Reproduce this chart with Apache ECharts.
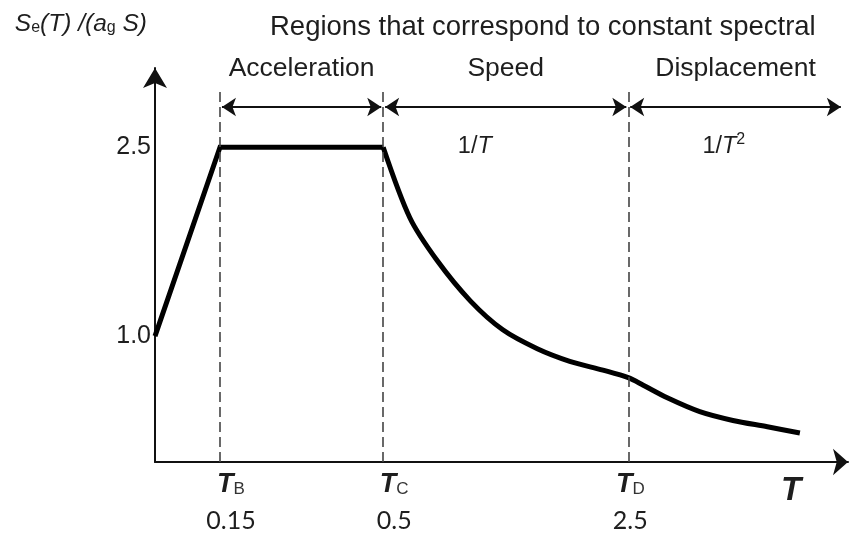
<!DOCTYPE html>
<html>
<head>
<meta charset="utf-8">
<script src="https://cdn.jsdelivr.net/npm/echarts@6/dist/echarts.min.js"></script>
<style>
  html, body { margin: 0; padding: 0; background: #fff; }
  #chart { width: 850px; height: 538px; }
</style>
</head>
<body>
<div id="chart"></div>
<script>
// Schematic elastic response spectrum, Se(T)/(ag S), plotted on a stretched period axis.
// Corner periods: name, value in seconds, position on the schematic axis.
const periodNames = ['B', 'C', 'D'];
const periodValues = ['0.15', '0.5', '2.5'];
const periodAxisPos = [1.0, 3.51, 7.28];

// Linear branch and constant-acceleration plateau
const rampX = [0, 1.0, 3.51];
const rampY = [1.0, 2.5, 2.5];

// Descending branches: 1/T up to TD, 1/T^2 beyond
const decayX = [3.51, 3.92, 4.34, 4.85, 5.35, 5.88, 6.38, 6.89, 7.28, 7.51, 7.88, 8.38, 8.89, 9.42, 9.92];
const decayY = [2.5, 1.94, 1.60, 1.28, 1.05, 0.90, 0.80, 0.73, 0.67, 0.61, 0.51, 0.40, 0.33, 0.28, 0.23];

// Spectral ordinate labels on the vertical axis
const ordinateTicks = [1.0, 2.5];

// Regions of constant spectral quantity
const regionNames = ['Acceleration', 'Speed', 'Displacement'];
const lawTexts = ['{n|1/}{i|T}', '{n|1/}{i|T}{sup|2}'];

// Layout constants (schematic axis units)
const axisEnd = 10.66;
const regionEnd = 10.55;
const yTop = 3.13;
const arrowLevel = 2.82;
const lawLevel = 2.51;
const lawAnchor = [4.92, 8.75];
const arrowInset = 0.03;
const tickLabelShift = [11, 11, 2];   // px, horizontal nudge of each corner-period label

const FONT = '"Liberation Sans", Arial, sans-serif';
const NUM_FONT = 'Lato, "Open Sans", sans-serif';
const TXT = '#1e1e1e';

// Region spans: from each corner period to the next, the last one to the end of the arrows
const bounds = periodAxisPos.concat([regionEnd]);
const regionArrows = regionNames.map((name, i) => [
  { coord: [bounds[i] + arrowInset, arrowLevel], name: name },
  { coord: [bounds[i + 1] - (i < regionNames.length - 1 ? arrowInset : 0), arrowLevel] }
]);
const cornerLines = periodAxisPos.map(p => [
  { coord: [p, 0] },
  { coord: [p, 2.98] }
]);
const lawPoints = lawTexts.map((law, i) => ({ coord: [lawAnchor[i], lawLevel], value: law }));

// Rich styles for the corner-period labels, one set per label so each can be nudged
const tickRich = {};
periodNames.forEach((n, i) => {
  const pl = 2 * tickLabelShift[i];
  tickRich['t' + i] = { fontFamily: FONT, fontSize: 27, fontWeight: 'bold', fontStyle: 'italic', color: TXT, lineHeight: 30, padding: [0, 0, 0, pl] };
  tickRich['s' + i] = { fontFamily: FONT, fontSize: 17, color: '#333', lineHeight: 30, padding: [9, 0, 0, 0] };
  tickRich['v' + i] = { fontFamily: NUM_FONT, fontSize: 25, color: TXT, lineHeight: 42, padding: [0, 0, 0, pl] };
});

const chart = echarts.init(document.getElementById('chart'));
chart.setOption({
  animation: false,
  backgroundColor: '#fff',
  title: {
    text: 'Regions that correspond to constant spectral',
    left: 265,
    top: 8,
    textStyle: { fontFamily: FONT, fontSize: 27.5, fontWeight: 'normal', color: TXT }
  },
  grid: { left: 155, right: 2, top: 68, bottom: 76, containLabel: false },
  xAxis: {
    type: 'value',
    min: 0,
    max: axisEnd,
    splitLine: { show: false },
    axisTick: { show: false },
    axisLine: {
      onZero: false,
      symbol: ['none', 'arrow'],
      symbolSize: [20, 15],
      lineStyle: { color: '#111', width: 2 }
    },
    name: 'T',
    nameLocation: 'end',
    nameGap: -57,
    nameTextStyle: {
      fontFamily: FONT, fontSize: 33, fontWeight: 'bold', fontStyle: 'italic',
      color: TXT, align: 'center', verticalAlign: 'top', padding: [12, 0, 0, 0]
    },
    axisLabel: {
      customValues: periodAxisPos,
      margin: 8,
      formatter: function (v) {
        const i = periodAxisPos.indexOf(v);
        if (i < 0) return '';
        return '{t' + i + '|T}{s' + i + '|' + periodNames[i] + '}\n{v' + i + '|' + periodValues[i] + '}';
      },
      rich: tickRich
    }
  },
  yAxis: {
    type: 'value',
    min: 0,
    max: yTop,
    interval: 0.5,
    splitLine: { show: false },
    axisTick: { show: false },
    axisLine: {
      show: true,
      symbol: ['none', 'arrow'],
      symbolSize: [18, 20],
      lineStyle: { color: '#111', width: 2 }
    },
    axisLabel: {
      margin: 4,
      fontFamily: FONT,
      fontSize: 25,
      color: TXT,
      formatter: function (v) {
        return ordinateTicks.some(t => Math.abs(t - v) < 1e-6) ? v.toFixed(1) : '';
      }
    },
    name: '{i|S}{sub|e}{i|(T) /(a}{sub|g}{i| S)}',
    nameLocation: 'end',
    nameGap: 30,
    nameTextStyle: {
      align: 'right',
      verticalAlign: 'bottom',
      padding: [0, 8, 0, 0],
      rich: {
        i: { fontFamily: FONT, fontSize: 24.5, fontStyle: 'italic', color: TXT, lineHeight: 28 },
        sub: { fontFamily: FONT, fontSize: 16, color: TXT, lineHeight: 28, padding: [8, 0, 0, 0] }
      }
    }
  },
  series: [
    {
      type: 'line',
      data: rampX.map((x, i) => [x, rampY[i]]),
      showSymbol: false,
      lineStyle: { color: '#000', width: 5, join: 'miter' },
      markLine: {
        silent: true,
        symbol: ['none', 'none'],
        lineStyle: { color: '#444', width: 1.6, type: [10, 5] },
        label: { show: false },
        data: cornerLines
      },
      z: 3
    },
    {
      type: 'line',
      data: decayX.map((x, i) => [x, decayY[i]]),
      showSymbol: false,
      smooth: 0.3,
      lineStyle: { color: '#000', width: 5 },
      markLine: {
        silent: true,
        symbol: ['arrow', 'arrow'],
        symbolSize: [14, 14],
        lineStyle: { color: '#111', width: 2, type: 'solid' },
        label: {
          show: true,
          position: 'insideMiddleTop',
          distance: 25,
          formatter: p => p.name,
          fontFamily: FONT,
          fontSize: 26.5,
          color: TXT
        },
        data: regionArrows
      },
      markPoint: {
        silent: true,
        symbol: 'circle',
        symbolSize: 0,
        label: {
          show: true,
          position: 'inside',
          formatter: p => p.value,
          rich: {
            n: { fontFamily: FONT, fontSize: 23.5, color: TXT, lineHeight: 28 },
            i: { fontFamily: FONT, fontSize: 23.5, fontStyle: 'italic', color: TXT, lineHeight: 28 },
            sup: { fontFamily: FONT, fontSize: 16, color: TXT, lineHeight: 28, padding: [0, 0, 12, 0] }
          }
        },
        data: lawPoints
      },
      z: 3
    }
  ]
});
</script>
</body>
</html>
